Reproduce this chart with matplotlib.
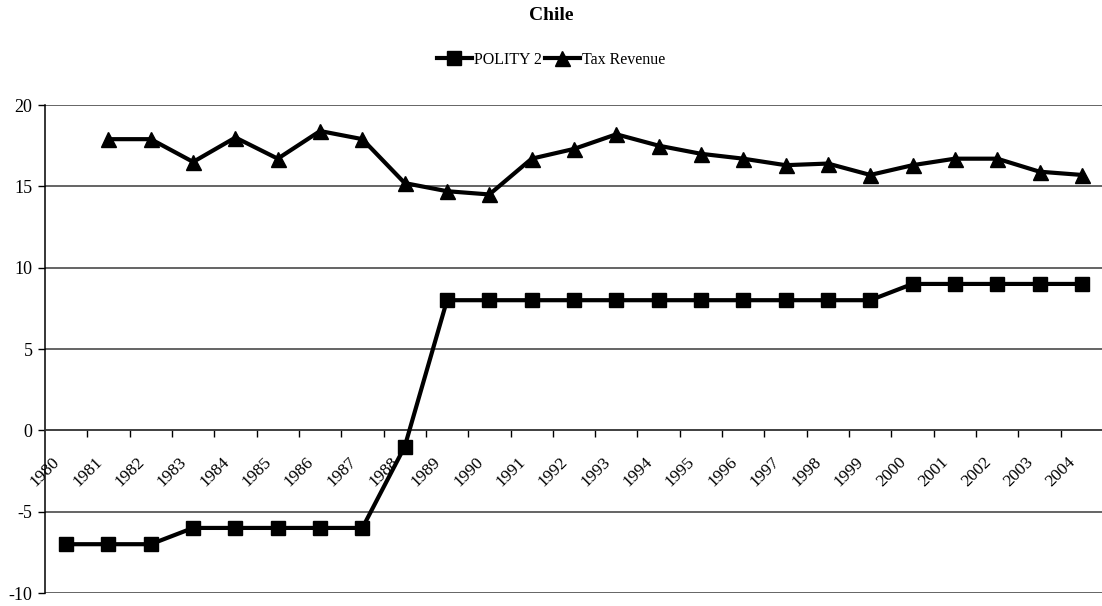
import matplotlib
matplotlib.use("Agg")
import matplotlib.pyplot as plt
from matplotlib.ticker import FixedLocator, MultipleLocator
from matplotlib.transforms import ScaledTranslation

# Chile: regime score and tax revenue, 1980-2004
years = [str(y) for y in range(1980, 2005)]
polity2 = [-7, -7, -7, -6, -6, -6, -6, -6, -1, 8, 8, 8, 8, 8, 8, 8, 8, 8, 8, 8,
           9, 9, 9, 9, 9]
tax_revenue = [None, 17.9, 17.9, 16.5, 18.0, 16.7, 18.4, 17.9, 15.2, 14.7, 14.5,
               16.7, 17.3, 18.2, 17.5, 17.0, 16.7, 16.3, 16.4, 15.7, 16.3, 16.7,
               16.7, 15.9, 15.7]

plt.rcParams["font.family"] = ["Liberation Serif", "DejaVu Serif"]
plt.rcParams["axes.unicode_minus"] = False

fig = plt.figure(figsize=(11.02, 6.06), dpi=100)
ax = fig.add_axes([45 / 1102, 13 / 606, 1058 / 1102, 488 / 606])

x = list(range(len(years)))
tax_x = [i for i, v in zip(x, tax_revenue) if v is not None]
tax_y = [v for v in tax_revenue if v is not None]

ax.plot(x, polity2, color="black", lw=3.0, marker="s", ms=9.8,
        label="POLITY 2", zorder=3, clip_on=False)
ax.plot(tax_x, tax_y, color="black", lw=3.0, marker="^", ms=10.8,
        label="Tax Revenue", zorder=3, clip_on=False)

ax.set_xlim(-0.5, len(years) - 0.5)
ax.set_ylim(-10, 20)

# value axis
ax.yaxis.set_major_locator(MultipleLocator(5))
ax.tick_params(axis="y", direction="out", length=5, width=1, labelsize=13,
               pad=4, colors="black")
ax.yaxis.grid(True, color="#3a3a3a", lw=1.1)
ax.set_axisbelow(True)

# category axis crossing at zero
for side in ("top", "right"):
    ax.spines[side].set_visible(False)
ax.spines["left"].set_color("black")
ax.spines["left"].set_linewidth(1.1)
ax.spines["bottom"].set_position(("data", 0))
ax.spines["bottom"].set_color("#3a3a3a")
ax.spines["bottom"].set_linewidth(1.1)

ax.xaxis.set_major_locator(FixedLocator(x))
ax.xaxis.set_minor_locator(FixedLocator([i + 0.5 for i in x]))
ax.set_xticklabels(years)
ax.tick_params(axis="x", which="major", length=0, pad=17, labelsize=12.5)
ax.tick_params(axis="x", which="minor", direction="out", length=5, width=1,
               colors="black")
shift = ScaledTranslation(-3 / 100, 0, fig.dpi_scale_trans)
for lab in ax.get_xticklabels():
    lab.set_rotation(45)
    lab.set_ha("right")
    lab.set_va("top")
    lab.set_transform(lab.get_transform() + shift)

fig.text(0.5, 1 - 15 / 606, "Chile", ha="center", va="center",
         fontsize=14, fontweight="bold")
fig.legend(loc="center", bbox_to_anchor=(0.5, 1 - 60 / 606), ncol=2,
           frameon=False, fontsize=11.5, handlelength=2.2, handletextpad=0.15,
           columnspacing=0.15, borderaxespad=0)

fig.savefig("out.png", dpi=100)
